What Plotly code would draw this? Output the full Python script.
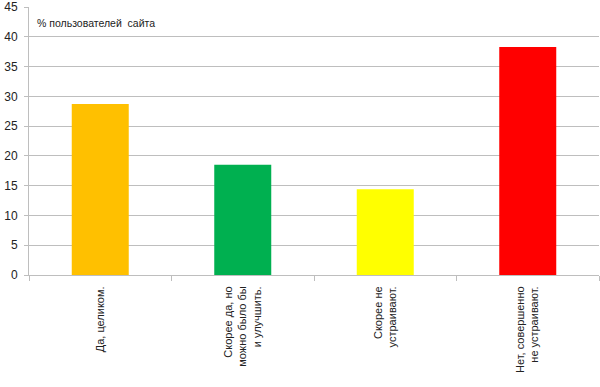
import plotly.graph_objects as go

categories = ["Да, целиком.", "Скорее да, но<br>можно было бы<br>и улучшить.",
              "Скорее не<br>устраивают.", "Нет, совершенно<br>не устраивают."]
values = [28.7, 18.5, 14.4, 38.3]
colors = ["#FFC000", "#00B050", "#FFFF00", "#FF0000"]
y_ticks = [0, 5, 10, 15, 20, 25, 30, 35, 40, 45]
title_text = "% пользователей  сайта"

fig = go.Figure(go.Bar(x=categories, y=values, marker=dict(color=colors, line=dict(width=0)),
                       width=0.4))

fig.update_layout(
    width=600, height=387,
    margin=dict(l=29, r=1, t=7, b=112),
    paper_bgcolor="white", plot_bgcolor="white",
    font=dict(family="Liberation Sans, Arial, sans-serif", size=11, color="#222"),
    showlegend=False,
    bargap=0.6,
)
fig.update_yaxes(range=[0, 45], tickvals=y_ticks, showgrid=True, gridcolor="#BEBEBE", gridwidth=1,
                 showline=True, linecolor="#BEBEBE", linewidth=1, ticks="outside", ticklen=4,
                 tickcolor="#BEBEBE", tickfont=dict(size=12, color="#222"), zeroline=False,
                 ticklabelstandoff=4, automargin=False)
fig.update_xaxes(showline=True, linecolor="#BEBEBE", linewidth=1, ticks="outside", ticklen=5,
                 tickcolor="#BEBEBE", tickson="boundaries", tickangle=-90,
                 tickfont=dict(size=11, color="#222"), showgrid=False, automargin=False,
                 ticklabelstandoff=6)

fig.add_annotation(x=0, y=1, xref="paper", yref="paper", xanchor="left", yanchor="top",
                   xshift=6, yshift=-8, text=title_text, showarrow=False,
                   font=dict(size=10.5, color="#222"))

fig.write_html("out.html", config={"displayModeBar": False},
               post_script="document.body.style.margin='0';document.body.style.overflow='hidden';")
